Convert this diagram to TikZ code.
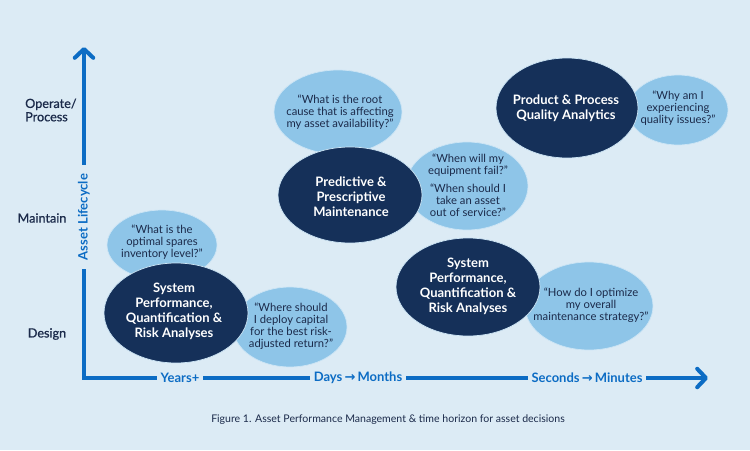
\documentclass[tikz,border=0pt]{standalone}
\usepackage{fontspec}
\setmainfont{Lato}
\newfontfamily\arrowfont{DejaVu Sans}
\newfontfamily\stagefont[FakeBold=0.7]{Lato}
\usetikzlibrary{shapes.geometric,arrows.meta}
\definecolor{bgblue}{RGB}{220,235,245}
\definecolor{navy}{RGB}{21,48,89}
\definecolor{skyblue}{RGB}{142,197,232}
\definecolor{ink}{RGB}{27,42,74}
\definecolor{axisblue}{RGB}{12,108,196}
\tikzset{
  bubble/.style={ellipse, fill=skyblue, draw=white!55!skyblue, line width=0.4pt, inner sep=0pt},
  core/.style={ellipse, fill=navy, draw=white!55!skyblue, line width=0.4pt, inner sep=0pt},
  quotetext/.style={align=center, text=ink, font=\fontsize{6.4}{6.9}\selectfont},
  coretext/.style={align=center, text=white, font=\bfseries\fontsize{7.4}{8.5}\selectfont},
  stage/.style={text=ink, font=\stagefont\fontsize{7.2}{7.6}\selectfont},
  axislabel/.style={fill=bgblue, text=axisblue, inner ysep=1pt, inner xsep=2pt, font=\bfseries\fontsize{7.4}{8}\selectfont},
  axisline/.style={draw=axisblue, line width=2.3pt, line cap=round},
}
\newcommand{\toarrow}{{\arrowfont\,→\,}}
\begin{document}
\begin{tikzpicture}[x=0.02cm, y=-0.02cm]
  \fill[bgblue] (0,0) rectangle (750,450);
  \useasboundingbox (0,0) rectangle (750,450);
  % Axes
  \coordinate (top) at (84,47);
  \coordinate (origin) at (84,378);
  \coordinate (right) at (708,378);
  \draw[axisline, {Straight Barb[round, length=5pt, width=10.5pt]}-{Straight Barb[round, length=5pt, width=10.5pt]}] (top) -- (origin) -- (right);
  \node (lifecycle) [axislabel, rotate=90, inner xsep=5pt, fill=bgblue] at (84,217) {Asset Lifecycle};
  \node (years) [axislabel] at (180,378) {Years+};
  \node (days) [axislabel] at (358,378) {Days\toarrow Months};
  \node (seconds) [axislabel] at (587,378) {Seconds\toarrow Minutes};
  % Stages
  \node (operate) [stage, align=left, anchor=west] at (19,110) {Operate/\\Process};
  \node (maintain) [stage] at (42,218) {Maintain};
  \node (design) [stage] at (47,334) {Design};
  % Questions
  \node (spares) [bubble, minimum width=2.2cm, minimum height=1.4cm] at (162,245) {};
  \node (capital) [bubble, minimum width=2.28cm, minimum height=1.6cm] at (290,327) {};
  \node (rootcause) [bubble, minimum width=2.56cm, minimum height=1.68cm] at (338,112) {};
  \node (failure) [bubble, minimum width=2.44cm, minimum height=1.76cm] at (467,186) {};
  \node (quality) [bubble, minimum width=2.0cm, minimum height=1.4cm] at (678,110) {};
  \node (strategy) [bubble, minimum width=2.56cm, minimum height=1.76cm] at (589,306) {};
  \node (sparest) [quotetext] at (162,242) {“What is the\\optimal spares\\inventory level?”};
  \node (capitalt) [quotetext] at (291,326) {“Where should\\I deploy capital\\for the best risk-\\adjusted return?”};
  \node (rootcauset) [quotetext] at (340,112) {“What is the root\\cause that is affecting\\my asset availability?”};
  \node (failuret) [quotetext] at (468,185) {“When will my\\equipment fail?”\\[3.4pt]“When should I\\take an asset\\out of service?”};
  \node (qualityt) [quotetext] at (678,108) {“Why am I\\experiencing\\quality issues?”};
  \node (strategyt) [quotetext] at (591,305) {“How do I optimize\\my overall\\maintenance strategy?”};
  % Capabilities
  \node (riskdesign) [core, minimum width=2.88cm, minimum height=2.0cm] at (176,313) {};
  \node (predictive) [core, minimum width=2.88cm, minimum height=1.92cm] at (350,195) {};
  \node (product) [core, minimum width=2.84cm, minimum height=2.0cm] at (567,108) {};
  \node (riskops) [core, minimum width=2.88cm, minimum height=1.96cm] at (468,287) {};
  \node (riskdesignt) [coretext] at (174,311) {System\\Performance,\\Quantification \&\\Risk Analyses};
  \node (predictivet) [coretext] at (351,197) {Predictive \&\\Prescriptive\\Maintenance};
  \node (productt) [coretext] at (566,108) {Product \& Process\\Quality Analytics};
  \node (riskopst) [coretext] at (468,286) {System\\Performance,\\Quantification \&\\Risk Analyses};
  % Caption
  \node (caption) [text=ink, font=\fontsize{6}{7}\selectfont] at (388,420) {Figure 1. Asset Performance Management \& time horizon for asset decisions};
\end{tikzpicture}
\end{document}
